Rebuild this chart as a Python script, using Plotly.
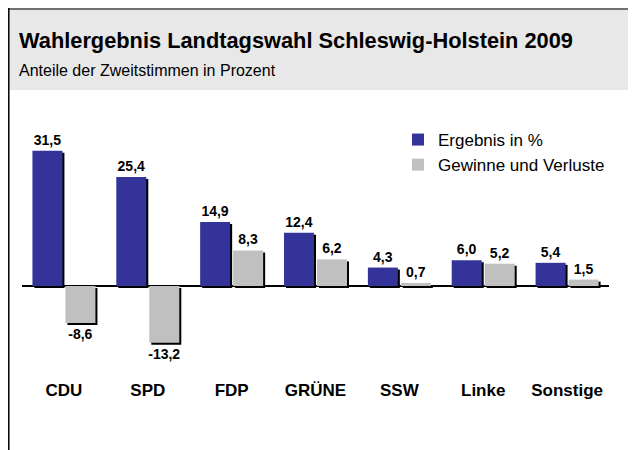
import plotly.graph_objects as go

# Wahlergebnis Schleswig-Holstein 2009
parteien = ["CDU", "SPD", "FDP", "GRÜNE", "SSW", "Linke", "Sonstige"]
ergebnis = [31.5, 25.4, 14.9, 12.4, 4.3, 6.0, 5.4]
veraenderung = [-8.6, -13.2, 8.3, 6.2, 0.7, 5.2, 1.5]

blau = "#333399"
grau = "#c0c0c0"

# the page puts the figure 8px in from the top left corner
page = 8
W, H = 636 - page, 450 - page

# plot area wanted, in page pixels
left, right, top, bottom = 22, 609, 110, 378
zero = 286
px_per_unit = 4.29

l = left - page
t = top - page
pw = right - left
ph = bottom - top
r = W - l - pw
b = H - t - ph
px_per_cat = pw / 7


def px_x(p):
    return (p - left) / pw


def px_y(p):
    return (bottom - p) / ph


bw = 30 / px_per_cat
off_blue = -31.5 / px_per_cat
off_grey = 1.5 / px_per_cat
sh = 2 / px_per_cat
sh_y = 2 / px_per_unit

fig = go.Figure()

# drop shadows
for vals, off in [(ergebnis, off_blue), (veraenderung, off_grey)]:
    fig.add_trace(go.Bar(
        x=parteien, y=vals, base=-sh_y, width=bw, offset=off + sh,
        marker=dict(color="black", line=dict(width=0)),
        showlegend=False, hoverinfo="skip",
    ))

label_font = dict(family="Liberation Sans", size=14, color="black", weight="bold")
fig.add_trace(go.Bar(
    x=parteien, y=ergebnis, name="Ergebnis in %", width=bw, offset=off_blue,
    marker=dict(color=blau, line=dict(width=0)),
    texttemplate="%{y:.1f}", textposition="outside", cliponaxis=False,
    constraintext="none", textfont=label_font,
))
fig.add_trace(go.Bar(
    x=parteien, y=veraenderung, name="Gewinne und Verluste", width=bw, offset=off_grey,
    marker=dict(color=grau, line=dict(width=0)),
    texttemplate="%{y:.1f}", textposition="outside", cliponaxis=False,
    constraintext="none", textfont=label_font,
))

ymax = (zero - top) / px_per_unit
ymin = -(bottom - zero) / px_per_unit

shapes = [
    # grey header
    dict(type="rect", xref="paper", yref="paper", x0=px_x(8), x1=px_x(640),
         y0=px_y(90), y1=px_y(8), fillcolor="#e8e8e8", line=dict(width=0), layer="below"),
    # top border
    dict(type="line", xref="paper", yref="paper", x0=px_x(8), x1=px_x(640),
         y0=px_y(9), y1=px_y(9), line=dict(color="#707070", width=2)),
    # left border
    dict(type="line", xref="paper", yref="paper", x0=px_x(8.8), x1=px_x(8.8),
         y0=px_y(8), y1=px_y(455), line=dict(color="black", width=1.5)),
]

fig.update_layout(
    width=W, height=H,
    margin=dict(l=l, r=r, t=t, b=b),
    paper_bgcolor="white", plot_bgcolor="white",
    barmode="overlay",
    separators=",.",
    font=dict(family="Liberation Sans", color="black"),
    shapes=shapes,
    xaxis=dict(showgrid=False, showline=False, ticks="", zeroline=False,
               tickfont=dict(size=17, weight="bold", color="black"),
               range=[-0.5, 6.5]),
    yaxis=dict(showgrid=False, showticklabels=False, zeroline=True,
               zerolinecolor="black", zerolinewidth=1.5, range=[ymin, ymax]),
    legend=dict(x=px_x(398), y=px_y(122), xanchor="left", yanchor="top",
                font=dict(size=17, color="black"), bgcolor="rgba(0,0,0,0)",
                tracegroupgap=0, itemwidth=30),
    annotations=[
        dict(text="<b>Wahlergebnis Landtagswahl Schleswig-Holstein 2009</b>",
             xref="paper", yref="paper", x=px_x(17), y=px_y(40), xanchor="left",
             yanchor="middle", showarrow=False, font=dict(size=21.8, color="black")),
        dict(text="Anteile der Zweitstimmen in Prozent",
             xref="paper", yref="paper", x=px_x(17), y=px_y(70), xanchor="left",
             yanchor="middle", showarrow=False, font=dict(size=16, color="black")),
    ],
)

fig.write_html("out.html")
